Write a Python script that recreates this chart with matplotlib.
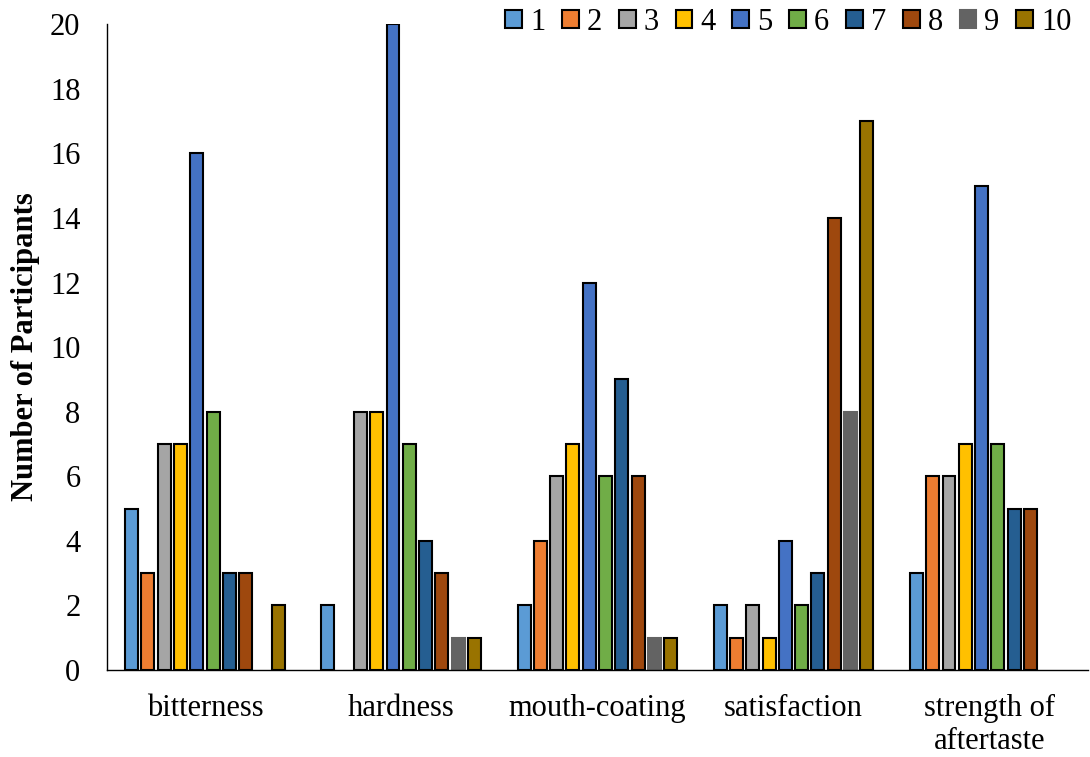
import numpy as np
import matplotlib.pyplot as plt

plt.rcParams['font.family'] = ['Liberation Serif', 'DejaVu Serif']

categories = ['bitterness', 'hardness', 'mouth-coating', 'satisfaction', 'strength of\naftertaste']
ratings = ['1', '2', '3', '4', '5', '6', '7', '8', '9', '10']
counts = {
    '1':  [5, 2, 2, 2, 3],
    '2':  [3, 0, 4, 1, 6],
    '3':  [7, 8, 6, 2, 6],
    '4':  [7, 8, 7, 1, 7],
    '5':  [16, 20, 12, 4, 15],
    '6':  [8, 7, 6, 2, 7],
    '7':  [3, 4, 9, 3, 5],
    '8':  [3, 3, 6, 14, 5],
    '9':  [0, 1, 1, 8, 0],
    '10': [2, 1, 1, 17, 0],
}
colors = ['#5b9bd5', '#ed7d31', '#a5a5a5', '#ffc000', '#4472c4',
          '#70ad47', '#255e91', '#9e480e', '#636363', '#997300']

fig, ax = plt.subplots(figsize=(10.9, 7.57), dpi=100)
fig.subplots_adjust(left=0.098, right=0.998, top=0.968, bottom=0.115)

x = np.arange(len(categories))
slot = 0.083
width = 0.066
for i, r in enumerate(ratings):
    offs = (i - 4.5) * slot
    # leave out zero counts so no outline sits on the baseline
    pts = [(xx + offs, v) for xx, v in zip(x, counts[r]) if v > 0]
    xs = [p[0] for p in pts]
    vals = [p[1] for p in pts]
    ec = 'black' if r != '9' else '#636363'
    ax.bar(xs, vals, width, color=colors[i], edgecolor=ec, linewidth=1.5, label=r)

ax.set_xlim(-0.5, 4.5)
ax.set_ylim(0, 20)
ax.set_yticks(range(0, 21, 2))
ax.set_xticks(x)
ax.set_xticklabels(categories, fontsize=22, linespacing=1.2)
ax.tick_params(axis='y', labelsize=22, length=0, pad=19)
ax.tick_params(axis='x', length=0, pad=17)
ax.set_ylabel('Number of Participants', fontsize=22, fontweight='bold', labelpad=7)

for s in ['top', 'right']:
    ax.spines[s].set_visible(False)
ax.spines['left'].set_linewidth(1.0)
ax.spines['bottom'].set_linewidth(1.0)

fig.legend(ncol=10, loc='upper right', bbox_to_anchor=(0.983, 0.99), frameon=False,
           fontsize=22, handlelength=0.55, handleheight=0.55, handletextpad=0.26,
           columnspacing=0.55, borderaxespad=0, borderpad=0)

plt.savefig('out.png')
